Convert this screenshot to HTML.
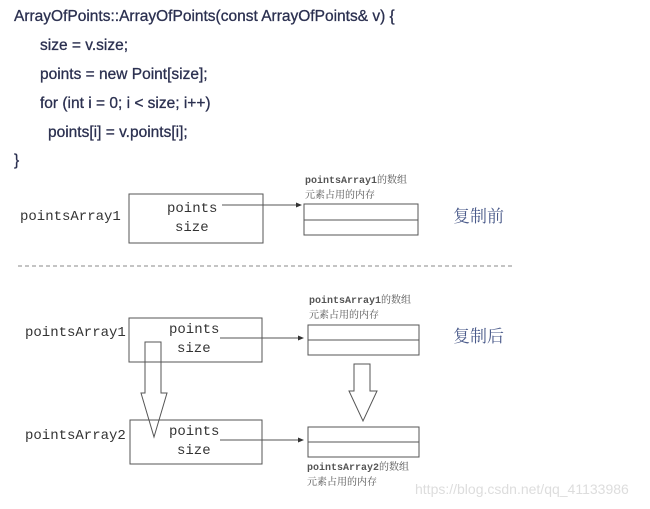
<!DOCTYPE html>
<html><head><meta charset="utf-8"><style>
body{margin:0;background:#fff;width:650px;height:504px;overflow:hidden}
</style></head><body>
<svg width="650" height="504" xmlns="http://www.w3.org/2000/svg">
<g font-family="Liberation Sans, sans-serif" font-size="15.5" fill="#2b3050" stroke="#2b3050" stroke-width="0.3">
<text x="14" y="21">ArrayOfPoints::ArrayOfPoints(const ArrayOfPoints&amp; v) {</text>
<text x="40" y="50">size = v.size;</text>
<text x="40" y="79">points = new Point[size];</text>
<text x="40" y="108">for (int i = 0; i &lt; size; i++)</text>
<text x="48" y="137">points[i] = v.points[i];</text>
<text x="14" y="165">}</text>
</g>
<g font-family="Liberation Mono, DejaVu Sans Mono, monospace" font-size="14" fill="#333">
<text x="20" y="220">pointsArray1</text>
<text x="167" y="212">points</text>
<text x="175" y="231">size</text>
<text x="25" y="336">pointsArray1</text>
<text x="169" y="333">points</text>
<text x="177" y="352">size</text>
<text x="25" y="439">pointsArray2</text>
<text x="169" y="435">points</text>
<text x="177" y="454">size</text>
</g>
<g font-family="Liberation Mono, Noto Sans CJK SC, monospace" font-size="10" fill="#555">
<text x="305" y="183" font-weight="bold">pointsArray1<tspan font-weight="normal" font-family="Noto Serif CJK SC, serif">的数组</tspan></text>
<text x="305" y="198" font-family="Noto Serif CJK SC, serif">元素占用的内存</text>
<text x="309" y="303" font-weight="bold">pointsArray1<tspan font-weight="normal" font-family="Noto Serif CJK SC, serif">的数组</tspan></text>
<text x="309" y="318" font-family="Noto Serif CJK SC, serif">元素占用的内存</text>
<text x="307" y="470" font-weight="bold">pointsArray2<tspan font-weight="normal" font-family="Noto Serif CJK SC, serif">的数组</tspan></text>
<text x="307" y="485" font-family="Noto Serif CJK SC, serif">元素占用的内存</text>
</g>
<g font-family="Noto Serif CJK SC, serif" font-size="17" fill="#4a5a8a">
<text x="453" y="222">复制前</text>
<text x="453" y="342">复制后</text>
</g>
<g fill="none" stroke="#555" stroke-width="1">
<rect x="129" y="194" width="134" height="49"/>
<rect x="304" y="204" width="114" height="31"/><line x1="304" y1="220" x2="418" y2="220"/>
<rect x="129" y="318" width="133" height="44"/>
<rect x="308" y="325" width="111" height="30"/><line x1="308" y1="340" x2="419" y2="340"/>
<rect x="130" y="420" width="132" height="44"/>
<rect x="308" y="427" width="111" height="30"/><line x1="308" y1="442" x2="419" y2="442"/>
<line x1="222" y1="205" x2="298" y2="205"/>
<line x1="220" y1="338" x2="300" y2="338"/>
<line x1="220" y1="440" x2="300" y2="440"/>
<line x1="18" y1="266" x2="512" y2="266" stroke-dasharray="4,3" stroke="#888"/>
<path d="M145 342 H161 V393 H167 L154 437 L141 393 H145 Z"/>
<path d="M354 364 H370 V391 H377 L363 421 L349 391 H354 Z"/>
</g>
<g fill="#333">
<path d="M302 205 l-6 -2.5 v5 z"/>
<path d="M304 338 l-6 -2.5 v5 z"/>
<path d="M304 440 l-6 -2.5 v5 z"/>
</g>
<text x="415" y="494" font-family="Liberation Sans, sans-serif" font-size="14" fill="#ddd">https://blog.csdn.net/qq_41133986</text>
</svg>
</body></html>
